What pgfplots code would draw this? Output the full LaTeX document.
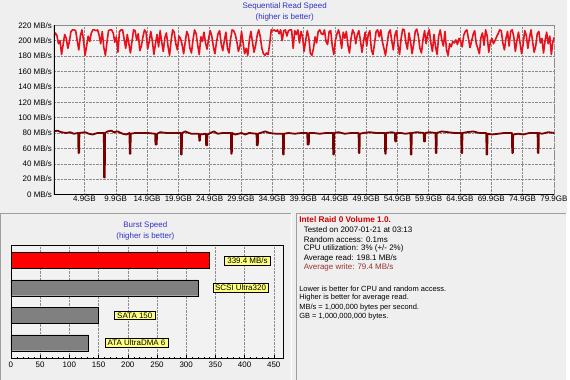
\documentclass[border=0pt]{standalone}
\usepackage{pgfplots}
\usepackage{pgfplotstable}
\pgfplotsset{compat=1.18}
\usepackage{fontspec}
\setmainfont{Liberation Sans}
\definecolor{bg}{HTML}{EFEFEF}
\definecolor{plotbg}{HTML}{F2F2F2}
\definecolor{readred}{HTML}{E8101A}
\definecolor{writered}{HTML}{7A0000}
\definecolor{titleblue}{HTML}{3030C8}
\definecolor{labelyellow}{HTML}{FFFF80}
\definecolor{gridgray}{HTML}{8C8C8C}
\definecolor{barred}{HTML}{FF0000}
\definecolor{bargray}{HTML}{808080}
\definecolor{titlered}{HTML}{D00000}
\definecolor{avgwrite}{HTML}{993333}

\pgfplotstableread[row sep=\\]{
v\\
204\\210\\207\\196\\ 200\\182\\195\\208\\ 203\\190\\199\\212\\ 214\\214\\213\\200\\
188\\206\\214\\201\\ 181\\193\\206\\199\\ 210\\214\\214\\213\\ 214\\207\\196\\212\\
191\\181\\198\\213\\ 214\\214\\210\\198\\ 205\\185\\212\\214\\ 214\\202\\190\\208\\
196\\184\\199\\214\\ 213\\201\\209\\187\\ 193\\205\\214\\211\\ 189\\199\\212\\200\\
182\\196\\208\\192\\ 213\\198\\186\\204\\ 210\\193\\181\\200\\ 214\\211\\196\\188\\
206\\203\\195\\183\\ 198\\212\\207\\190\\ 184\\201\\214\\209\\ 194\\182\\205\\199\\
211\\197\\189\\203\\ 213\\206\\192\\183\\ 198\\209\\213\\196\\ 187\\200\\211\\190\\
184\\202\\214\\213\\ 208\\199\\186\\193\\ 212\\197\\183\\190\\ 181\\201\\212\\198\\
185\\194\\207\\214\\ 205\\190\\183\\181\\ 184\\182\\196\\214\\ 213\\214\\212\\214\\
209\\214\\200\\213\\ 214\\206\\213\\214\\ 214\\190\\213\\208\\ 214\\197\\212\\205\\
186\\200\\213\\204\\ 183\\181\\190\\205\\ 197\\212\\214\\209\\ 208\\214\\199\\195\\
212\\213\\193\\182\\ 200\\209\\214\\205\\ 190\\211\\203\\212\\ 194\\184\\203\\214\\
210\\196\\208\\213\\ 200\\185\\199\\211\\ 193\\208\\213\\188\\ 182\\196\\212\\214\\
205\\214\\199\\190\\ 181\\195\\210\\214\\ 200\\188\\207\\213\\ 194\\182\\203\\215\\
214\\198\\189\\210\\ 199\\183\\195\\212\\ 215\\206\\190\\184\\ 202\\213\\196\\209\\
214\\197\\186\\208\\ 192\\182\\206\\214\\ 201\\193\\212\\188\\ 181\\196\\192\\199\\
197\\201\\195\\203\\ 199\\192\\207\\212\\ 214\\203\\191\\199\\ 208\\213\\196\\190\\
183\\204\\210\\194\\ 214\\206\\185\\198\\ 203\\196\\200\\205\\ 209\\214\\213\\197\\
188\\203\\212\\193\\ 212\\214\\205\\186\\ 200\\211\\197\\183\\ 196\\213\\207\\190\\
204\\214\\199\\185\\ 193\\209\\212\\197\\ 203\\184\\200\\211\\ 196\\206\\182\\199\\
205\\
}\readtable

\begin{document}
\fontsize{8}{9.5}\selectfont
\begin{tikzpicture}[x=1pt,y=1pt]
\fill[bg] (0,0) rectangle (570,381);
% panel frames
\draw[gray!75] (0.5,0) -- (0.5,167.5) -- (293,167.5);
\draw[white] (293,167.5) -- (293,0);
\draw[gray!75] (297.5,0) -- (297.5,167.5) -- (568.5,167.5);
\draw[white] (568.5,167.5) -- (568.5,0);

% titles
\node[titleblue, align=center, font=\fontsize{8}{11}\selectfont] at (286,369.5) {Sequential Read Speed\\(higher is better)};
\node[titleblue, align=center, font=\fontsize{8}{11}\selectfont] at (146,149.5) {Burst Speed\\(higher is better)};

% top chart
\begin{axis}[
  at={(54pt,186pt)}, anchor=south west,
  width=503pt, height=170pt, scale only axis,
  xmin=0, xmax=80, ymin=0, ymax=220,
  axis background/.style={fill=plotbg},
  axis line style={gridgray, densely dotted},
  grid=major, grid style={densely dotted, gridgray},
  tick style={draw=none},
  xtick={4.9,9.9,14.9,19.9,24.9,29.9,34.9,39.9,44.9,49.9,54.9,59.9,64.9,69.9,74.9,79.9},
  xticklabels={4.9GB,9.9GB,14.9GB,19.9GB,24.9GB,29.9GB,34.9GB,39.9GB,44.9GB,49.9GB,54.9GB,59.9GB,64.9GB,69.9GB,74.9GB,79.9GB},
  ytick={0,20,...,220},
  yticklabels={0 MB/s,20 MB/s,40 MB/s,60 MB/s,80 MB/s,100 MB/s,120 MB/s,140 MB/s,160 MB/s,180 MB/s,200 MB/s,220 MB/s},
  /pgf/number format/assume math mode=true,
  tick label style={font=\fontsize{8}{9}\selectfont},
  xticklabel style={yshift=1pt},
  yticklabel style={xshift=1pt},
]
\addplot[readred, line width=1.6pt, line join=round] table[x expr=\coordindex*0.25, y=v] {\readtable};
\addplot[writered, line width=1.8pt, line join=round] coordinates {
(0,82) (0.6,83) (1.2,81) (2,80) (2.6,81) (3.2,79) (3.9,80) (3.95,54) (4.05,54) (4.1,80) (5,81) (5.6,79) (6.2,78) (7,80)
(8.0,80) (8.05,22) (8.15,22) (8.2,80) (8.6,82) (9.2,83) (9.6,81) (10.2,82) (11,79) (11.6,78) (12.1,80) (12.15,53) (12.25,53) (12.3,79)
(13,80) (14,80) (15,80) (16.2,79) (16.25,65) (16.45,65) (16.5,79) (17,81) (18,80) (19,80) (20.3,80) (20.35,52) (20.45,52) (20.5,80)
(21,82) (21.6,80) (22,79) (23.2,79) (23.25,70) (23.35,70) (23.4,78) (24.3,79) (24.35,64) (24.5,64) (24.55,78) (25,80) (25.6,82) (26.2,79)
(27,80) (28.3,80) (28.35,53) (28.45,53) (28.5,80) (29,78) (30,80) (30.6,78) (31.2,80) (32.4,79) (32.45,64) (32.6,64) (32.65,79) (33,80)
(33.8,82) (34.5,80) (35.5,79) (36.6,79) (36.65,52) (36.75,52) (36.8,79) (37.5,80) (38.5,79) (39.5,80) (40.5,80) (40.55,65) (40.75,65) (40.8,80)
(41.5,80) (42.5,79) (43.5,80) (44.6,80) (44.65,52) (44.75,52) (44.8,80) (45.5,81) (46.5,79) (47.5,80) (48.7,80) (48.75,54) (48.85,54) (48.9,79)
(49.5,80) (50.5,81) (51.5,80) (52.9,80) (52.95,53) (53.05,53) (53.1,80) (54,81) (54.5,80) (54.55,69) (54.7,69) (54.75,80) (55.5,80) (56.2,79)
(57.0,80) (57.05,52) (57.15,52) (57.2,80) (58,81) (59.1,80) (59.15,69) (59.3,69) (59.35,80) (60,81) (61.0,80) (61.05,54) (61.15,54) (61.2,80)
(62,82) (63,81) (64,80) (65.1,80) (65.15,54) (65.25,54) (65.3,80) (66,81) (67,82) (68,80) (69.1,80) (69.15,52) (69.25,52) (69.3,79)
(70,78) (71,79) (72,80) (73.2,80) (73.25,54) (73.35,54) (73.4,78) (74.2,79) (75,78) (76,80) (77.3,80) (77.35,54) (77.45,54) (77.5,80)
(78,79) (79,81) (80,80)
};
\draw[black, line width=1.8pt] (rel axis cs:0,1) -- (rel axis cs:0,0);
\draw[black, line width=1.2pt] (rel axis cs:0,0) -- (rel axis cs:1,0);
\end{axis}

% burst chart
\begin{axis}[
  at={(11pt,21pt)}, anchor=south west,
  width=274pt, height=114pt, scale only axis,
  xmin=0, xmax=467, ymin=0.418, ymax=4.545,
  axis background/.style={fill=plotbg},
  axis line style={black, line width=0.8pt},
  ytick=\empty,
  xtick={0,50,...,450},
  minor x tick num=4,
  xtick pos=bottom, xtick align=inside,
  major tick length=4pt, minor tick length=2pt,
  tick style={black},
  xmajorgrids, grid style={densely dotted, gridgray},
  /pgf/number format/assume math mode=true,
  tick label style={font=\fontsize{8}{9}\selectfont},
  clip=false,
]
\addplot[xbar, bar width=16pt, fill=barred, draw=black] coordinates {(339.4,4)};
\addplot[xbar, bar width=16pt, fill=bargray, draw=black] coordinates {(320,3) (150,2) (133,1)};
\node[fill=labelyellow, draw=black, inner xsep=3pt, inner ysep=1.6pt] at (axis cs:405,4) {339.4 MB/s};
\node[fill=labelyellow, draw=black, inner xsep=2pt, inner ysep=1.6pt] at (axis cs:393,3) {SCSI Ultra320};
\node[fill=labelyellow, draw=black, inner xsep=3pt, inner ysep=1.6pt] at (axis cs:212,2) {SATA 150};
\node[fill=labelyellow, draw=black, inner xsep=3pt, inner ysep=1.6pt] at (axis cs:215,1) {ATA UltraDMA 6};
\end{axis}

% info panel
\node[anchor=west, inner sep=0pt, titlered, font=\fontsize{8.3}{9}\selectfont\bfseries] at (300.5,161) {Intel Raid 0 Volume 1.0.};
\node[anchor=west, inner sep=0pt] at (305,150.5) {Tested on 2007-01-21 at 03:13};
\node[anchor=west, inner sep=0pt] at (305,141) {Random access: 0.1ms};
\node[anchor=west, inner sep=0pt] at (305,131.5) {CPU utilization: 3\% (+/- 2\%)};
\node[anchor=west, inner sep=0pt] at (305,122) {Average read: 198.1 MB/s};
\node[anchor=west, inner sep=0pt, avgwrite] at (305,112.5) {Average write: 79.4 MB/s};
\begin{scope}[every node/.style={anchor=west, inner sep=0pt, font=\fontsize{7.5}{9}\selectfont}]
\node at (300.5,91.5) {Lower is better for CPU and random access.};
\node at (300.5,82) {Higher is better for average read.};
\node at (300.5,72.5) {MB/s = 1,000,000 bytes per second.};
\node at (300.5,63) {GB = 1,000,000,000 bytes.};
\end{scope}
\end{tikzpicture}
\end{document}
